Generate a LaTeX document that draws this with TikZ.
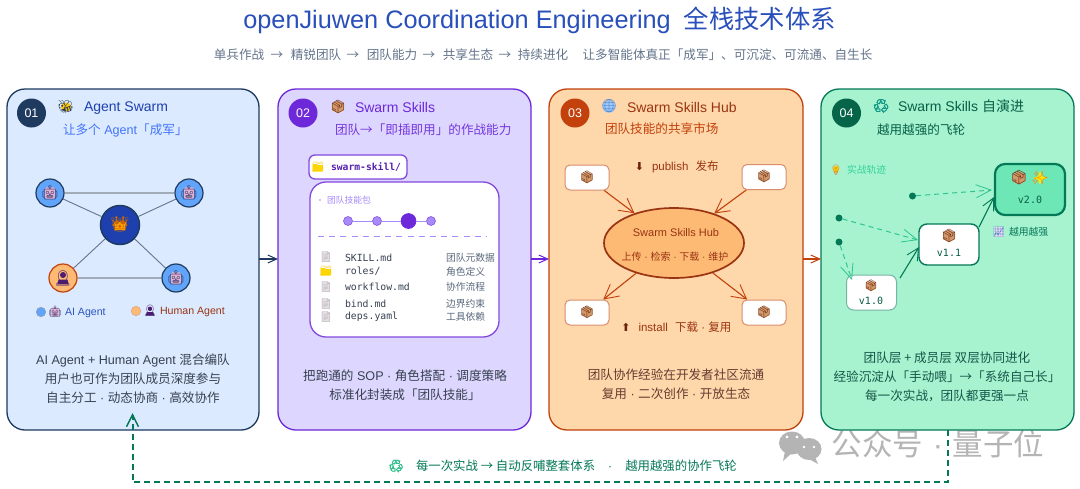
\documentclass[tikz,border=0pt]{standalone}
\usepackage{fontspec}
\usetikzlibrary{arrows.meta,shapes.geometric}
\setmainfont{Liberation Sans}
\setmonofont{DejaVu Sans Mono}
\newfontfamily\cjkf{Noto Sans CJK SC}
\newfontfamily\emojif{Noto Emoji}
\newfontfamily\emojib[FakeBold=2.5]{Noto Emoji}
\newfontfamily\dejavu{DejaVu Sans}
\newcommand{\zh}[1]{{\cjkf #1}}
\definecolor{ca}{HTML}{1E3A5F}\definecolor{cafill}{HTML}{DBEAFE}
\definecolor{cb}{HTML}{6D28D9}\definecolor{cbfill}{HTML}{DDD6FE}
\definecolor{cc}{HTML}{C2410C}\definecolor{ccfill}{HTML}{FED7AA}
\definecolor{cd}{HTML}{047857}\definecolor{cdfill}{HTML}{A7F3D0}
\definecolor{blue8}{HTML}{1E40AF}\definecolor{blue4}{HTML}{60A5FA}
\definecolor{vio}{HTML}{A78BFA}\definecolor{org}{HTML}{FDBA74}
\definecolor{rust}{HTML}{9A3412}\definecolor{ink}{HTML}{374151}
\definecolor{gry}{HTML}{64748B}\definecolor{mint}{HTML}{34D399}
\definecolor{deep}{HTML}{065F46}\definecolor{tan}{HTML}{D19A6A}
\definecolor{wm}{HTML}{B4B4B4}\definecolor{greenbox}{HTML}{6EE7B7}
\definecolor{dude}{HTML}{4C1D6F}
\tikzset{
  x=1pt,y=-1pt,
  txt/.style={inner sep=0pt,outer sep=0pt,align=center},
  lft/.style={txt,anchor=west},
  card/.style={rounded corners=18pt,line width=1.3pt},
  badge/.style={circle,minimum size=29pt,inner sep=0pt,text=white,font=\fontsize{12.5}{14}\selectfont},
  emo/.style={txt,font=\emojif\fontsize{#1}{#1}\selectfont},
  emo/.default=12,
  emob/.style={txt,font=\emojib\fontsize{#1}{#1}\selectfont},
  ttl/.style={lft,font=\fontsize{14}{16}\selectfont},
  sub/.style={lft,font=\fontsize{12.6}{15}\selectfont},
  body/.style={txt,text=ink,font=\fontsize{12.6}{19}\selectfont},
  agent/.style={circle,inner sep=0pt,minimum size=28pt,line width=1.2pt,draw=ca},
  flow/.style={line width=1.5pt,-{Straight Barb[length=9pt,width=8pt,line width=1pt]}},
  hubarrow/.style={cc,line width=1.1pt,-{Straight Barb[length=14pt,width=15pt,line width=.9pt]}},
  skbox/.style={draw=cc!60,line width=1pt,fill=white,rounded corners=5pt,minimum width=44pt,minimum height=25pt,inner sep=0pt},
  tdot/.style={circle,inner sep=0pt,minimum size=9pt,fill=vio,draw=cb!80,line width=.6pt},
  fname/.style={lft,text=ink,font=\ttfamily\fontsize{9.8}{12}\selectfont},
  fdesc/.style={lft,text=gry!90!black,font=\fontsize{9.8}{12}\selectfont},
  vbox/.style={fill=white,draw=cd,inner sep=0pt},
  vtxt/.style={txt,text=deep,font=\ttfamily\fontsize{10}{12}\selectfont},
  vdot/.style={circle,fill=cd,inner sep=0pt,minimum size=7pt},
  growarrow/.style={cd,line width=1.1pt,-{Straight Barb[length=12pt,width=12pt,line width=.9pt]}},
  tracearrow/.style={mint!85!cd,line width=1pt,dash pattern=on 5pt off 4pt,-{Straight Barb[length=15pt,width=13pt,line width=.8pt]}},
}
% package icon: tinted cube under the emoji glyph
\newcommand{\pkg}[4]{%name,x,y,size
  \fill[tan] (#2,#3)+(0,-.48*#4)--+(.45*#4,-.24*#4)--+(.45*#4,.24*#4)--+(0,.48*#4)--+(-.45*#4,.24*#4)--+(-.45*#4,-.24*#4)--cycle;
  \node[emo=#4,text=rust!70!black] (#1) at (#2,#3) {📦};}
\newcommand{\robot}[4]{%
  \fill[pink!70!vio,rounded corners=1.5pt] (#2,#3)+(-.36*#4,-.4*#4) rectangle +(.36*#4,.42*#4);
  \node[emo=#4,text=ink!85!blue] (#1) at (#2,#3) {🤖};}
\newcommand{\folder}[3]{%
  \fill[yellow!75!orange,rounded corners=.6pt] (#2,#3)+(-5,-3.5) -- +(-1,-3.5) -- +(0,-2.5) -- +(5,-2.5) -- +(5,4) -- +(-5,4) -- cycle;
  \node[emo=10,text=yellow!60!orange] (#1) at (#2,#3) {📁};}
\newcommand{\filei}[3]{%
  \fill[violet!12!gray!22] (#2,#3)+(-3.7,-4.7) rectangle +(3.7,4.7);
  \node[emo=10,text=violet!20!gray!60] (#1) at (#2,#3) {📄};}
\newcommand{\dude}[4]{%name,x,y,size
  \fill[dude] (#2,#3)+(0,-.2*#4) circle (.2*#4);
  \fill[dude] (#2,#3)+(-.38*#4,.42*#4) -- +(-.3*#4,.1*#4) -- +(.3*#4,.1*#4) -- +(.38*#4,.42*#4) -- cycle;
  \node[emo=#4,text=dude] (#1) at (#2,#3) {👤};}
\begin{document}
\begin{tikzpicture}
\useasboundingbox (0,0) rectangle (1080,488);
\fill[white] (0,0) rectangle (1080,488);
% title
\node[txt,text=blue8!85!blue4,font=\fontsize{25.3}{28}\selectfont] (title) at (539.5,20.5) {openJiuwen Coordination Engineering\hspace{13pt}\zh{全栈技术体系}};
\begin{scope}[every node/.style={txt,text=gry,font=\fontsize{12.6}{15}\selectfont}]
\node (s1) at (239,55) {\zh{单兵作战}};
\node (a1) at (277,56) {\zh{→}};
\node (s2) at (316,55) {\zh{精锐团队}};
\node (a2) at (353,56) {\zh{→}};
\node (s3) at (392,55) {\zh{团队能力}};
\node (a3) at (429,56) {\zh{→}};
\node (s4) at (468,55) {\zh{共享生态}};
\node (a4) at (505,56) {\zh{→}};
\node (s5) at (543,55) {\zh{持续进化}};
\node (s6) at (727.5,55) {\zh{让多智能体真正「成军」、可沉淀、可流通、自生长}};
\end{scope}
% watermark
\fill[wm] (792,443) ellipse (13pt and 11.5pt);
\fill[wm] (785,451)--(783,461)--(792,453)--cycle;
\fill[wm] (809,449) ellipse (12.5pt and 11pt);
\fill[wm] (815,457)--(818,464)--(809,459)--cycle;
\fill[white] (787,437) circle (1.7pt) (797,437) circle (1.7pt) (804,447) circle (1.4pt) (814,447) circle (1.4pt);
\node[txt,text=wm,font=\fontsize{30.5}{32}\selectfont] (wmark) at (938,444) {\zh{公众号}\hspace{1pt} · \hspace{1pt}\zh{量子位}};
% cards
\draw[card,draw=ca,fill=cafill] (7,89) rectangle (259,430);
\draw[card,draw=cb,fill=cbfill] (278,89) rectangle (531,430);
\draw[card,draw=cc,fill=ccfill] (549,89) rectangle (803,430);
\draw[card,draw=cd,fill=cdfill] (821,89) rectangle (1074,430);
\coordinate (e12a) at (259,259);\coordinate (e12b) at (278,259);
\coordinate (e23a) at (531,259);\coordinate (e23b) at (549,259);
\coordinate (e34a) at (803,259);\coordinate (e34b) at (821,259);
\draw[flow,ca] (e12a)--(e12b);
\draw[flow,cb] (e23a)--(e23b);
\draw[flow,cc] (e34a)--(e34b);
% headers
\node[badge,fill=ca] (b1) at (31.5,113) {01};
\node[badge,fill=cb] (b2) at (303,113) {02};
\node[badge,fill=cc] (b3) at (575,113) {03};
\node[badge,fill=deep!80!cd] (b4) at (846.5,113) {04};
\fill[yellow!60!orange] (66,107) ellipse (5pt and 4.5pt);
\node[emo=13,text=ink] (i1) at (66,107) {🐝};
\node[ttl,text=blue8] (t1) at (84,108) {Agent Swarm};
\node[sub,text=blue4!70!blue] (u1) at (63,130) {\zh{让多个} Agent\zh{「成军」}};
\pkg{i2}{338}{107}{13}
\node[ttl,text=cb] (t2) at (355,107) {Swarm Skills};
\node[sub,text=cb!85!vio] (u2) at (335,130) {\zh{团队→「即插即用」的作战能力}};
\fill[blue4!60] (609,106.5) circle (6.3pt);
\node[emo=13,text=blue4!80!black] (i3) at (609,106.5) {🌐};
\node[ttl,text=rust] (t3) at (627,107) {Swarm Skills Hub};
\node[sub,text=cc] (u3) at (605,128.5) {\zh{团队技能的共享市场}};
\node[emob=13,text=teal!70!mint] (i4) at (881,106) {♻};
\node[ttl,text=deep] (t4) at (898,106) {Swarm Skills \zh{自演进}};
\node[sub,text=deep] (u4) at (877,130) {\zh{越用越强的飞轮}};
% card 1 graph
\node[circle,inner sep=0pt,minimum size=39pt,fill=blue8,draw=ca,line width=1.5pt] (lead) at (120,225) {};
\node[agent,fill=blue4] (g1) at (50,193) {};
\node[agent,fill=blue4] (g2) at (189,193) {};
\node[agent,fill=org,draw=cc] (g3) at (63,278) {};
\node[agent,fill=blue4] (g4) at (176,278) {};
\draw[gry!60,line width=1.8pt] (g1)--(g2);
\draw[gry!60,line width=1.8pt] (g3)--(g4);
\draw[gry,line width=.9pt] (g1)--(lead);
\draw[gry,line width=.9pt] (g2)--(lead);
\draw[gry,line width=.9pt] (g3)--(lead);
\draw[gry,line width=.9pt] (g4)--(lead);
\fill[orange!75!yellow] (120,225)+(-6,-3)--+(6,-3)--+(5,5)--+(-5,5)--cycle;
\node[emo=15,text=orange!80!black] (crown) at (120,224) {👑};
\robot{r1}{50}{193}{14}
\robot{r2}{189}{193}{14}
\robot{r3}{176}{278}{14}
\dude{h1}{63}{278}{15}
\node[circle,inner sep=0pt,minimum size=9.5pt,fill=blue4,draw=ca!50,line width=.5pt] (l1) at (41,312) {};
\robot{l2}{55}{312}{11}
\node[lft,text=blue8!80!blue4,font=\fontsize{10.6}{12}\selectfont] (l3) at (65,313) {AI Agent};
\node[circle,inner sep=0pt,minimum size=9.5pt,fill=org,draw=cc!50,line width=.5pt] (l4) at (136,311) {};
\dude{l5}{150}{311}{11}
\node[lft,text=rust,font=\fontsize{10.6}{12}\selectfont] (l6) at (160,312) {Human Agent};
\node[body] (d1) at (133,378.5) {AI Agent + Human Agent \zh{混合编队}\\\zh{用户也可作为团队成员深度参与}\\\zh{自主分工} · \zh{动态协商} · \zh{高效协作}};
% card 2
\node[draw=cb!85,line width=1.3pt,fill=white,rounded corners=6pt,minimum width=98pt,minimum height=24pt,inner sep=0pt] (sk) at (358,167) {};
\folder{skf}{318}{167.5}
\node[lft,text=cb!80!black,font=\ttfamily\bfseries\fontsize{9.7}{12}\selectfont] (skt) at (331,167) {swarm-skill/};
\node[draw=cb!85,line width=1.3pt,fill=white,rounded corners=16pt,minimum width=189pt,minimum height=155pt,inner sep=0pt] (pk) at (404.5,259.5) {};
\node[circle,fill=vio,inner sep=0pt,minimum size=1.6pt] (pd) at (320,200) {};
\node[lft,text=vio,font=\fontsize{8.8}{11}\selectfont] (pt) at (327,200) {\zh{团队技能包}};
\node[tdot] (p1) at (348,221) {};
\node[tdot] (p2) at (377,221) {};
\node[tdot,minimum size=15pt,fill=cb,draw=cb] (p3) at (408.5,221) {};
\node[tdot] (p4) at (431,221) {};
\draw[vio,line width=1pt] (p1)--(p2);\draw[vio,line width=1pt] (p2)--(p3);\draw[vio,line width=1pt] (p3)--(p4);
\coordinate (da) at (318,236);\coordinate (db) at (487,236);
\draw[vio,line width=.9pt,dash pattern=on 6pt off 5.2pt] (da)--(db);
\filei{f1}{326}{257}\node[fname] (n1) at (345,257.5) {SKILL.md};\node[fdesc] (m1) at (446,257.5) {\zh{团队元数据}};
\folder{f2}{326}{271.5}\node[fname] (n2) at (345,271.5) {roles/};\node[fdesc] (m2) at (446,271.5) {\zh{角色定义}};
\filei{f3}{326}{287}\node[fname] (n3) at (345,287) {workflow.md};\node[fdesc] (m3) at (446,287) {\zh{协作流程}};
\filei{f4}{326}{304}\node[fname] (n4) at (345,304) {bind.md};\node[fdesc] (m4) at (446,304) {\zh{边界约束}};
\filei{f5}{326}{317}\node[fname] (n5) at (345,317) {deps.yaml};\node[fdesc] (m5) at (446,317) {\zh{工具依赖}};
\node[body] (d2) at (405,385) {\zh{把跑通的} SOP · \zh{角色搭配} · \zh{调度策略}\\\zh{标准化封装成「团队技能」}};
% card 3
\node[skbox] (h1b) at (587,177.5) {};
\node[skbox] (h2b) at (764,177) {};
\node[skbox] (h3b) at (587,312.5) {};
\node[skbox] (h4b) at (764,312.5) {};
\node[ellipse,draw=rust,line width=1.7pt,fill=org,minimum width=140pt,minimum height=70pt,inner sep=0pt] (hub) at (674,243) {};
\draw[hubarrow] (h1b)--(hub);
\draw[hubarrow] (h2b)--(hub);
\draw[hubarrow] (hub)--(h3b);
\draw[hubarrow] (hub)--(h4b);
\pkg{q1}{587}{177.5}{12}
\pkg{q2}{764}{176.5}{12}
\pkg{q3}{587}{312}{12}
\pkg{q4}{764}{312}{12}
\node[txt,text=rust,font=\fontsize{11}{13}\selectfont] (hx) at (676,233) {Swarm Skills Hub};
\node[txt,text=rust,font=\fontsize{10}{12}\selectfont] (hy) at (675,257) {\zh{上传} · \zh{检索} · \zh{下载} · \zh{维护}};
\node[txt,text=rust!70!black,font=\dejavu\fontsize{11}{12}\selectfont] (pa) at (639.5,167) {⬇};
\node[lft,text=rust,font=\fontsize{11.5}{14}\selectfont] (pb) at (652,167) {publish\hspace{4pt} \zh{发布}};
\node[txt,text=rust!70!black,font=\dejavu\fontsize{11}{12}\selectfont] (ia) at (626,327) {⬆};
\node[lft,text=rust,font=\fontsize{11.5}{14}\selectfont] (ib) at (638.5,327) {install\hspace{4pt} \zh{下载} · \zh{复用}};
\node[body,text=rust!50!ink] (d3) at (676,384.5) {\zh{团队协作经验在开发者社区流通}\\\zh{复用} · \zh{二次创作} · \zh{开放生态}};
% card 4
\fill[yellow!70!orange] (836,169) circle (3.2pt);
\node[emo=10,text=orange!70!gray] (bl) at (836,170) {💡};
\node[lft,text=mint,font=\fontsize{9.8}{12}\selectfont] (bt) at (847,170) {\zh{实战轨迹}};
\node[vbox,fill=greenbox,draw=cd,line width=2.2pt,rounded corners=10pt,minimum width=70pt,minimum height=51pt] (v2) at (1030,189.5) {};
\node[vbox,line width=1.4pt,rounded corners=8pt,minimum width=60pt,minimum height=41pt] (v1) at (949,244.5) {};
\node[vbox,draw=cd!55,line width=1pt,rounded corners=7pt,minimum width=50pt,minimum height=35pt] (v0) at (871.5,292.5) {};
\node[vdot] (t1d) at (912.5,196) {};
\node[vdot] (t2d) at (839,218) {};
\node[vdot] (t3d) at (839,242) {};
\coordinate (t1e) at (992,190);\coordinate (t2e) at (918,240);\coordinate (t3e) at (852,280);
\coordinate (g0s) at (900,278);\coordinate (g0e) at (919,247);
\coordinate (g1s) at (979,227);\coordinate (g1e) at (994,197);
\draw[tracearrow] (t1d)--(t1e);
\draw[tracearrow] (t2d)--(t2e);
\draw[tracearrow] (t3d)--(t3e);
\draw[growarrow] (g0s)--(g0e);
\draw[growarrow] (g1s)--(g1e);
\pkg{w2}{1019}{178}{14}
\fill[yellow!90!orange] (1040,178)+(0,-7)--+(1.8,-1.8)--+(7,0)--+(1.8,1.8)--+(0,7)--+(-1.8,1.8)--+(-7,0)--+(-1.8,-1.8)--cycle;
\node[emo=13,text=orange] (w3) at (1040,178) {✨};
\node[vtxt] (w4) at (1030,200) {v2.0};
\pkg{w5}{949}{236}{13}
\node[vtxt] (w6) at (949,253) {v1.1};
\pkg{w7}{871}{286}{11}
\node[vtxt] (w8) at (871,301) {v1.0};
\fill[violet!12] (993.5,227) rectangle (1004,237);
\node[emo=10,text=blue4!80!black] (g5) at (999,232) {📈};
\node[lft,text=cd,font=\fontsize{9.8}{12}\selectfont] (g6) at (1009,232) {\zh{越用越强}};
\node[body,text=deep!70!ink] (d4) at (947,377) {\zh{团队层 + 成员层 双层协同进化}\\\zh{经验沉淀从「手动喂」→「系统自己长」}\\\zh{每一次实战，团队都更强一点}};
% feedback
\coordinate (fb0) at (948,430);\coordinate (fb1) at (948,482);\coordinate (fb2) at (132.5,482);\coordinate (fb3) at (132.5,413);
\draw[cd,line width=2pt,dash pattern=on 6pt off 4pt,-{Straight Barb[length=12pt,width=12pt,line width=1.5pt]}] (fb0)--(fb1)--(fb2)--(fb3);
\node[emob=12,text=mint!80!deep] (fi) at (396,466) {♻};
\node[lft,text=cd,font=\fontsize{12.4}{14}\selectfont] (ft) at (416,466) {\zh{每一次实战 → 自动反哺整套体系}\hspace{13pt}·\hspace{13pt}\zh{越用越强的协作飞轮}};
\end{tikzpicture}
\end{document}
